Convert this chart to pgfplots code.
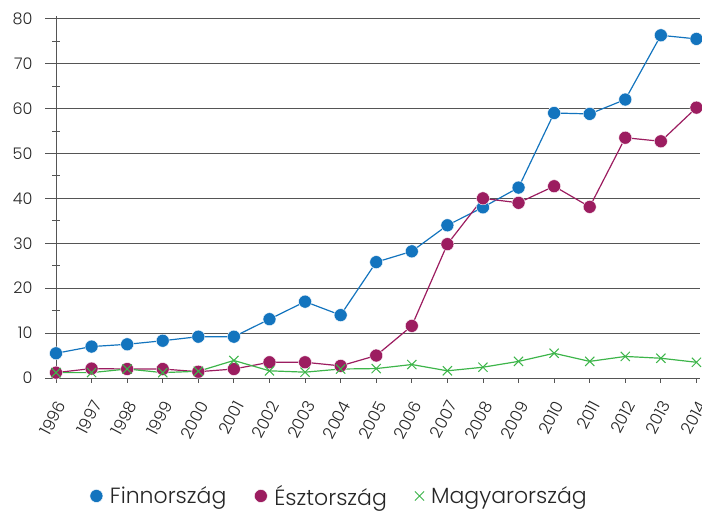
\documentclass[border=0pt]{standalone}
\usepackage{pgfplots}
\pgfplotsset{compat=1.18}
\usepackage{fontspec}
\setmainfont{Poppins}[UprightFont=* Light]
\definecolor{fin}{HTML}{1374BE}
\definecolor{est}{HTML}{9C1D60}
\definecolor{hun}{HTML}{3DB54A}
\definecolor{gridc}{HTML}{555555}
\begin{document}
\begin{tikzpicture}
\begin{axis}[
 scale only axis, width=644pt, height=362pt,
 xmin=1996, xmax=2014.1, ymin=0, ymax=80.6,
 axis lines=left, axis line style={-, gridc, line width=0.8pt},
 xtick={1996,...,2014}, ytick={0,10,...,80}, minor ytick={5,15,...,75},
 /pgf/number format/1000 sep={},
 /pgf/number format/assume math mode=true,
 xticklabel style={rotate=62, anchor=east, inner sep=1pt, font=\fontsize{16.5}{16.5}\selectfont, text=black!85, xshift=-8pt, yshift=-11pt},
 yticklabel style={font=\fontsize{16}{16}\selectfont, text=black!85, xshift=-9pt},
 ymajorgrids, major grid style={gridc, line width=0.8pt},
 tick align=outside,
 major tick length=11pt, minor tick length=8pt,
 xtick style={gridc, line width=0.8pt, /pgfplots/major tick length=5pt},
 ytick style={gridc, line width=0.8pt},
 minor y tick style={gridc, line width=0.8pt, xshift=4pt},
 legend style={at={(0.44,-0.29)}, anchor=north, draw=none, legend columns=3,
   font=\fontsize{22}{22}\selectfont, text=black!85, inner sep=0pt,
   /tikz/every odd column/.append style={column sep=5pt},
   /tikz/every even column/.append style={column sep=26pt}},
 legend image code/.code={\draw[#1] plot[only marks] coordinates {(0.15cm,0cm)};},
 clip=false,
]
\addplot[fin, line width=1.2pt, mark=*, mark size=6.5pt, mark options={fill=fin, draw=white, line width=0.4pt}] coordinates {
(1996,5.5)(1997,7.0)(1998,7.5)(1999,8.3)(2000,9.2)(2001,9.2)(2002,13.1)(2003,17.0)(2004,14.0)(2005,25.8)(2006,28.2)(2007,34.0)(2008,38.0)(2009,42.4)(2010,59.0)(2011,58.8)(2012,62.0)(2013,76.3)(2014,75.5)};
\addlegendentry{Finnország}
\addplot[est, line width=1.2pt, mark=*, mark size=6.5pt, mark options={fill=est, draw=white, line width=0.4pt}] coordinates {
(1996,1.2)(1997,2.1)(1998,2.0)(1999,2.0)(2000,1.4)(2001,2.0)(2002,3.5)(2003,3.5)(2004,2.7)(2005,5.0)(2006,11.6)(2007,29.8)(2008,40.0)(2009,39.0)(2010,42.7)(2011,38.1)(2012,53.5)(2013,52.7)(2014,60.2)};
\addlegendentry{Észtország}
\addplot[hun, line width=1.2pt, mark=x, mark size=6.5pt, mark options={line width=1pt}] coordinates {
(1996,1.2)(1997,1.2)(1998,2.0)(1999,1.2)(2000,1.5)(2001,3.9)(2002,1.6)(2003,1.3)(2004,2.0)(2005,2.1)(2006,3.0)(2007,1.6)(2008,2.4)(2009,3.7)(2010,5.5)(2011,3.7)(2012,4.8)(2013,4.4)(2014,3.5)};
\addlegendentry{Magyarország}
\end{axis}
\path (current axis.south west) ++(-56pt,-133pt) coordinate (bbl);
\path (current axis.north east) ++(2pt,16pt) coordinate (btr);
\pgfresetboundingbox
\path[use as bounding box] (bbl) rectangle (btr);
\end{tikzpicture}
\end{document}
